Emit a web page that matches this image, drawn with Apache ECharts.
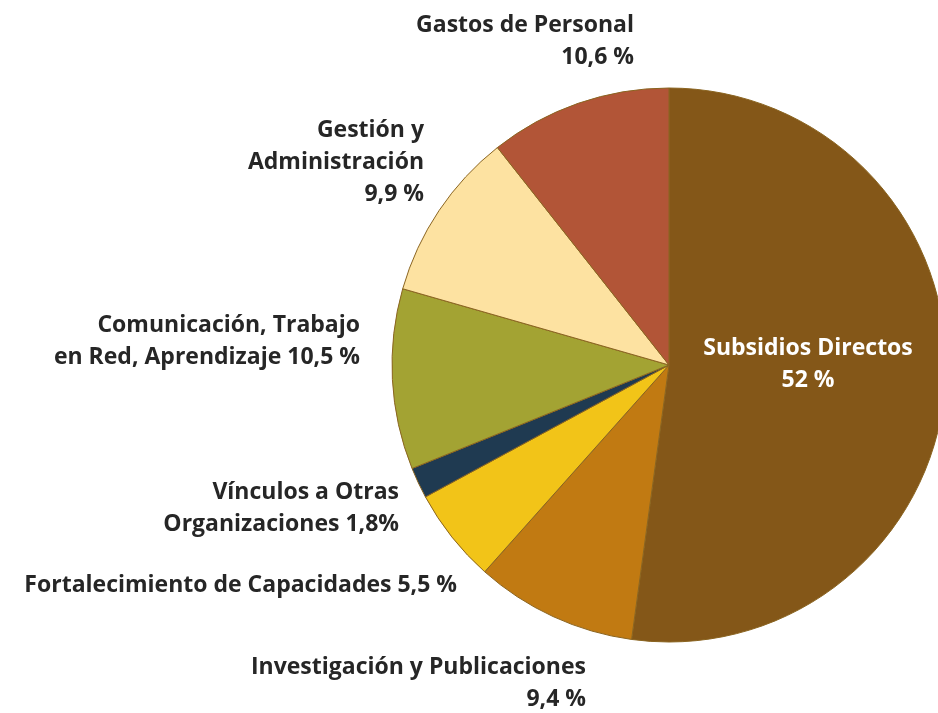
<!DOCTYPE html>
<html>
<head>
<meta charset="utf-8">
<script src="https://cdn.jsdelivr.net/npm/echarts@6/dist/echarts.min.js"></script>
<style>
  html, body { margin: 0; padding: 0; background: #fff; }
  #chart { width: 938px; height: 713px; }
</style>
</head>
<body>
<div id="chart"></div>
<script>
// slices, clockwise from 12 o'clock
var names = ['Subsidios Directos', 'Investigación y Publicaciones', 'Fortalecimiento de Capacidades',
  'Vínculos a Otras Organizaciones', 'Comunicación, Trabajo en Red, Aprendizaje',
  'Gestión y Administración', 'Gastos de Personal'];
var values = [52, 9.4, 5.5, 1.8, 10.5, 9.9, 10.6];
// label text, {v} = value
var labelText = [
  'Subsidios Directos\n{v} %',
  'Investigación y Publicaciones\n{v} %',
  'Fortalecimiento de Capacidades {v} %',
  'Vínculos a Otras\nOrganizaciones {v}%',
  'Comunicación, Trabajo\nen Red, Aprendizaje {v} %',
  'Gestión y\nAdministración\n{v} %',
  'Gastos de Personal\n{v} %'
];
var colors = ['#845718', '#c17a12', '#f2c418', '#1f3a51', '#a3a333', '#fde2a1', '#b25537'];

// label anchor (x, y, align) per slice
var labelPos = [
  [808, 364, 'center'],
  [586, 683, 'right'],
  [457, 585, 'right'],
  [399, 508, 'right'],
  [360, 341, 'right'],
  [424, 162, 'right'],
  [634, 41, 'right']
];

var chart = echarts.init(document.getElementById('chart'));

var data = values.map(function (v, i) {
  return {
    name: names[i],
    value: v,
    itemStyle: { color: colors[i] },
    label: i === 0 ? { color: '#fff' } : {}
  };
});

chart.setOption({
  animation: false,
  series: [{
    type: 'pie',
    center: [669, 365],
    radius: [0, 277],
    startAngle: 90,
    clockwise: true,
    avoidLabelOverlap: false,
    itemStyle: { borderColor: '#8a6420', borderWidth: 1 },
    label: {
      show: true,
      position: 'outside',
      fontFamily: 'Open Sans',
      fontWeight: 'bold',
      fontSize: 23,
      lineHeight: 32,
      color: '#262626',
      formatter: function (p) {
        return labelText[p.dataIndex].replace('{v}', String(p.value).replace('.', ','));
      }
    },
    labelLine: { show: false },
    labelLayout: function (p) {
      var lp = labelPos[p.dataIndex];
      return { x: lp[0], y: lp[1], align: lp[2], verticalAlign: 'middle' };
    },
    data: data
  }]
});
</script>
</body>
</html>
